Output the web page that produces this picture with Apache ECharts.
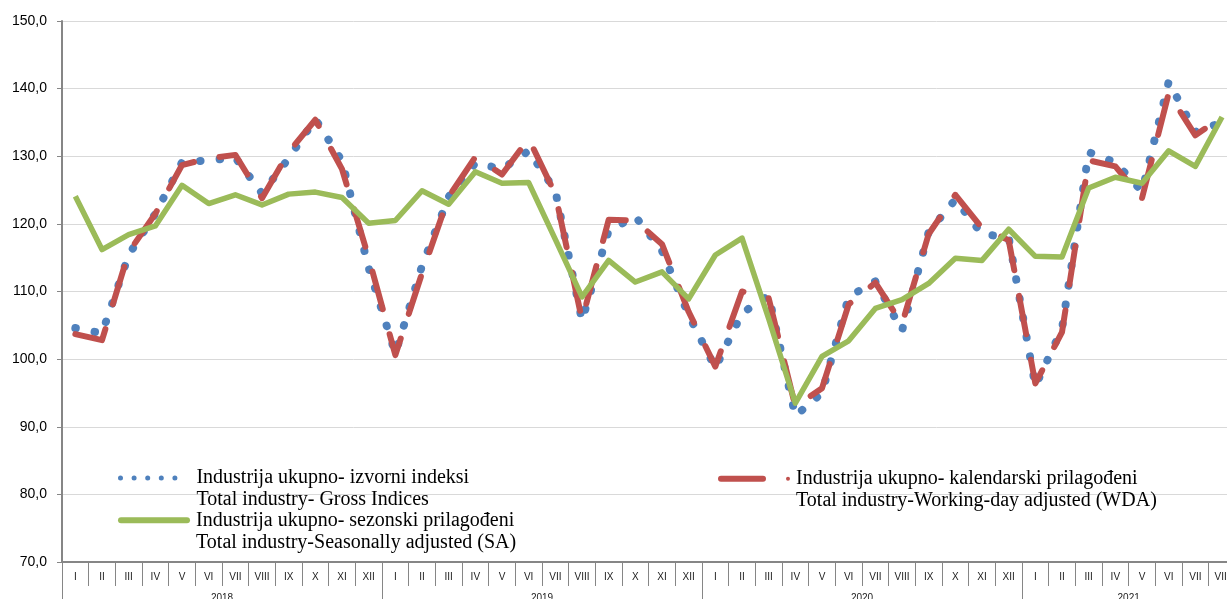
<!DOCTYPE html>
<html>
<head>
<meta charset="utf-8">
<script src="https://cdn.jsdelivr.net/npm/echarts@6/dist/echarts.min.js"></script>
<style>
html,body{margin:0;padding:0;background:#fff;}
#c{width:1227px;height:599px;}
</style>
</head>
<body>
<div id="c"></div>
<script>
// ---- data ----
const romanMonths = ['I','II','III','IV','V','VI','VII','VIII','IX','X','XI','XII'];
const years = ['2018','2019','2020','2021'];
const monthsPerYear = [12, 12, 12, 8];

const nameGross = 'Industrija ukupno- izvorni indeksi\nTotal industry- Gross Indices';
const nameWda = 'Industrija ukupno- kalendarski prilagođeni\nTotal industry-Working-day adjusted (WDA)';
const nameSa = 'Industrija ukupno- sezonski prilagođeni\nTotal industry-Seasonally adjusted (SA)';

// Total industry - gross indices
const gross = [
  104.6, 103.8, 115.4, 121.5, 129.1, 129.4, 129.8, 124.5, 129.7, 135.5, 129.3, 113.5,
  100.8, 113.8, 124.0, 129.0, 128.1, 130.8, 124.9, 105.7, 119.0, 121.1, 116.0, 106.5,
  98.7, 106.8, 109.4, 91.6, 95.0, 109.2, 111.5, 104.2, 118.8, 123.6, 118.5, 118.0,
  96.0, 104.5, 130.6, 129.1, 124.8, 141.0, 133.6, 135.0
];
// Total industry - working-day adjusted
const wda = [
  103.7, 102.8, 115.8, 121.5, 128.7, 129.7, 130.2, 123.8, 130.6, 135.4, 128.1, 115.0,
  100.6, 112.7, 124.0, 129.9, 127.3, 132.6, 124.4, 105.8, 120.6, 120.5, 117.0, 107.0,
  98.9, 110.0, 109.0, 93.0, 95.7, 108.1, 111.3, 105.2, 118.5, 124.3, 119.4, 117.6,
  96.4, 104.0, 129.4, 128.5, 123.8, 139.3, 133.1, 135.8
];
// Total industry - seasonally adjusted
const sa = [
  124.1, 116.2, 118.4, 119.7, 125.7, 123.0, 124.3, 122.8, 124.4, 124.7, 123.9, 120.1,
  120.5, 124.9, 122.9, 127.7, 126.0, 126.1, 117.7, 109.2, 114.6, 111.4, 112.9, 108.9,
  115.4, 117.9, 106.0, 93.5, 100.4, 102.7, 107.5, 108.8, 111.2, 114.9, 114.6, 119.2,
  115.2, 115.1, 125.3, 126.9, 126.0, 130.8, 128.5, 135.8
];

const yMin = 70, yMax = 150, yStep = 10;

// ---- derived category arrays ----
const categories = [];
const yearOfCategory = [];
const yearStartIdx = {};
const yearLabelIdx = {};
years.forEach((y, i) => {
  yearStartIdx[categories.length] = true;
  yearLabelIdx[categories.length + monthsPerYear[i] / 2] = y;
  for (let m = 0; m < monthsPerYear[i]; m++) {
    categories.push(romanMonths[m]);
    yearOfCategory.push(y);
  }
});

const catW = 26.667;
const axisGray = '#868686';

function dot(cx) { return 'M' + (cx - 1) + ',1a1,1 0 1,0 2,0a1,1 0 1,0 -2,0Z'; }
const dotsIcon = 'path://' + [1, 6.44, 11.88, 17.32, 22.76].map(dot).join(' ');
const barIcon = 'path://M3,0H69A3,3 0 0 1 69,6H3A3,3 0 0 1 3,0Z';
const dashIcon = 'path://M3,0H45A3,3 0 0 1 45,6H3A3,3 0 0 1 3,0Z M68,3a2,2 0 1,0 4,0a2,2 0 1,0 -4,0Z';

const legendText = {
  fontFamily: 'Liberation Serif',
  fontSize: 20,
  lineHeight: 22,
  color: '#000'
};
const legendFmt = (name) => '\n' + name;

const chart = echarts.init(document.getElementById('c'), null, {renderer: 'canvas'});
chart.setOption({
  animation: false,
  backgroundColor: '#fff',
  grid: {left: 62, top: 21, bottom: 37, width: catW * categories.length, containLabel: false, outerBoundsMode: 'none'},
  legend: [
    {data: [nameGross], left: 118, top: 443, padding: 0, itemWidth: 59.4, itemHeight: 5,
     icon: dotsIcon, selectedMode: false, itemStyle: {borderWidth: 0}, formatter: legendFmt,
     textStyle: Object.assign({padding: [4, 0, 0, 14]}, legendText)},
    {data: [nameWda], left: 718, top: 443.7, padding: 0, itemWidth: 72, itemHeight: 6,
     icon: dashIcon, selectedMode: false, itemStyle: {borderWidth: 0}, formatter: legendFmt,
     textStyle: Object.assign({padding: [4, 0, 0, 1]}, legendText)},
    {data: [nameSa], left: 118, top: 485.3, padding: 0, itemWidth: 72, itemHeight: 6,
     icon: barIcon, selectedMode: false, itemStyle: {borderWidth: 0}, formatter: legendFmt,
     textStyle: Object.assign({padding: [4, 0, 0, 1]}, legendText)}
  ],
  xAxis: [
    {
      type: 'category', data: categories, boundaryGap: true, position: 'bottom',
      axisLine: {show: true, lineStyle: {color: axisGray, width: 2}},
      axisTick: {show: true, interval: 0, length: 24, lineStyle: {color: axisGray, width: 1}},
      axisLabel: {interval: 0, margin: 10, fontSize: 10, color: '#222', fontFamily: 'Liberation Sans'},
      splitLine: {show: false}
    },
    {
      type: 'category', data: yearOfCategory, boundaryGap: true, position: 'bottom', offset: 0,
      axisLine: {show: false},
      axisTick: {show: true, length: 37, interval: (i) => !!yearStartIdx[i], lineStyle: {color: axisGray, width: 1}},
      axisLabel: {
        interval: (i) => yearLabelIdx[i] !== undefined,
        formatter: (v) => v,
        margin: 31, fontSize: 10, color: '#222', fontFamily: 'Liberation Sans',
        padding: [0, catW, 0, 0]
      },
      splitLine: {show: false}
    }
  ],
  yAxis: {
    type: 'value', min: yMin, max: yMax, interval: yStep,
    axisLine: {show: true, lineStyle: {color: axisGray, width: 2}},
    axisTick: {show: true, length: 5, lineStyle: {color: axisGray, width: 1}},
    axisLabel: {
      margin: 15, fontSize: 14, color: '#000', fontFamily: 'Liberation Sans',
      formatter: (v) => v.toFixed(1).replace('.', ',')
    },
    splitLine: {show: true, lineStyle: {color: '#d9d9d9', width: 1}}
  },
  series: [
    {
      name: nameGross, type: 'line', data: gross, xAxisIndex: 0, symbol: 'none',
      color: '#4F81BD', itemStyle: {color: '#4F81BD'},
      lineStyle: {color: '#4F81BD', width: 8, type: [0.5, 19.1], cap: 'round', join: 'round'},
      z: 2
    },
    {
      name: nameWda, type: 'line', data: wda, xAxisIndex: 0, symbol: 'none',
      color: '#C0504D', itemStyle: {color: '#C0504D'},
      lineStyle: {color: '#C0504D', width: 6, type: [39, 26], cap: 'round', join: 'round'},
      z: 3
    },
    {
      name: nameSa, type: 'line', data: sa, xAxisIndex: 0, symbol: 'none',
      color: '#9BBB59', itemStyle: {color: '#9BBB59'},
      lineStyle: {color: '#9BBB59', width: 5.5, join: 'round'},
      z: 4
    }
  ]
});
</script>
</body>
</html>
